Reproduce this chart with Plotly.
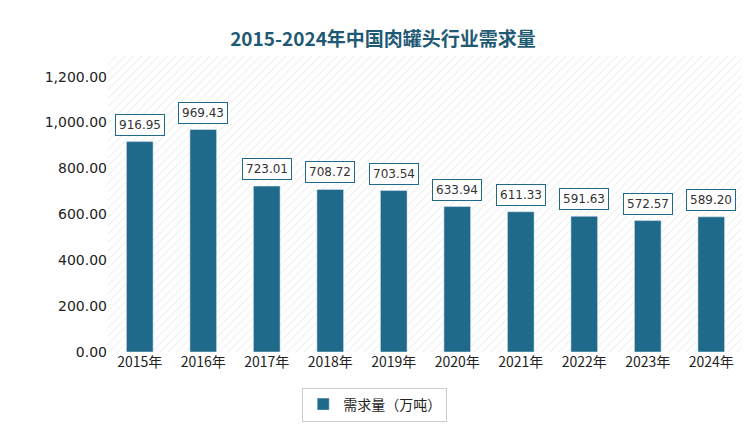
import plotly.graph_objects as go

years = ["2015年","2016年","2017年","2018年","2019年","2020年","2021年","2022年","2023年","2024年"]
demand = [916.95, 969.43, 723.01, 708.72, 703.54, 633.94, 611.33, 591.63, 572.57, 589.20]
ticks = [0, 200, 400, 600, 800, 1000, 1200]

fig = go.Figure()
fig.add_trace(go.Bar(x=[0.5], y=[1290], xaxis="x", width=[1], showlegend=False, hoverinfo="skip",
                     marker=dict(color="white", line=dict(width=0),
                                 pattern=dict(shape="/", fgcolor="#d0d0d0", size=6, solidity=0.15))))
fig.add_trace(go.Bar(x=years, y=demand, xaxis="x2", name="需求量（万吨）", marker_color="#1F6A8A", width=0.42))
for x, v in zip(years, demand):
    fig.add_annotation(x=x, y=v, xref="x2", yref="y", text=f"{v:.2f}", yshift=17, showarrow=False,
                       font=dict(size=12, color="#333", family="DejaVu Sans"),
                       bgcolor="white", bordercolor="#1F6A8A", borderwidth=1, borderpad=3)
fig.update_layout(
    width=750, height=445, paper_bgcolor="white", plot_bgcolor="white",
    margin=dict(l=100, r=15, t=48, b=101),
    title=dict(text="<b>2015-2024年中国肉罐头行业需求量</b>", x=0.5, y=0.945, xanchor="center",
               font=dict(size=19, color="#1F5A75", family="Noto Sans CJK SC")),
    xaxis=dict(range=[0, 1], visible=False),
    xaxis2=dict(overlaying="x", side="bottom", tickfont=dict(size=14, color="#222", family="Noto Sans CJK SC"),
                showline=False, ticks="", showgrid=False),
    yaxis=dict(range=[0, 1290], tickvals=ticks, ticktext=[f"{t:,.2f}" for t in ticks],
               showgrid=False, tickfont=dict(size=14, color="#222", family="DejaVu Sans"), ticks="",
               automargin=False),
    barmode="overlay",
    showlegend=True,
    legend=dict(orientation="h", x=0.42, y=-0.12, xanchor="center", yanchor="top",
                font=dict(size=14, color="#222", family="Noto Sans CJK SC"),
                bordercolor="#ccc", borderwidth=1),
)
fig.write_html("out.html")
